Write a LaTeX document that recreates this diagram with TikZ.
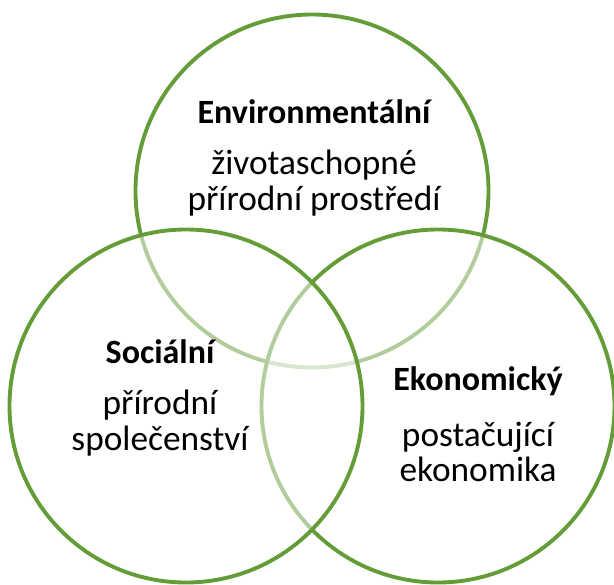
\documentclass[tikz,border=0pt]{standalone}
\usepackage{fontspec}
\setmainfont{Carlito}
\usepackage{tikz}

\definecolor{venngreen}{RGB}{100,156,56}

\begin{document}
\begin{tikzpicture}[x=0.75pt, y=-0.75pt]
      \tikzset{
      venn/.style={draw=venngreen, line width=2.9pt, fill=white, fill opacity=0.5},
      title/.style={font=\fontsize{25.5}{30}\selectfont\bfseries, text=black},
      body/.style={font=\fontsize{26.5}{26.5}\selectfont, text=black, align=center},
      }
      \useasboundingbox (0,0) rectangle (614,585);

      %circles - top, right, left
      \draw[venn] (312,191) circle (176.5);
      \draw[venn] (438,406) circle (176.5);
      \draw[venn] (186,406) circle (176.5);

      %Environmental
      \node[title] (envtitle) at (314,112) {Environmentální};
      \node[body] (envtext) at (314,183) {životaschopné\\přírodní prostředí};
      %Social
      \node[title] (soctitle) at (160,352) {Sociální};
      \node[body] (soctext) at (160,423) {přírodní\\společenství};
      %Economic
      \node[title] (ekotitle) at (478,381) {Ekonomický};
      \node[body] (ekotext) at (478,452) {postačující\\ekonomika};
\end{tikzpicture}
\end{document}
